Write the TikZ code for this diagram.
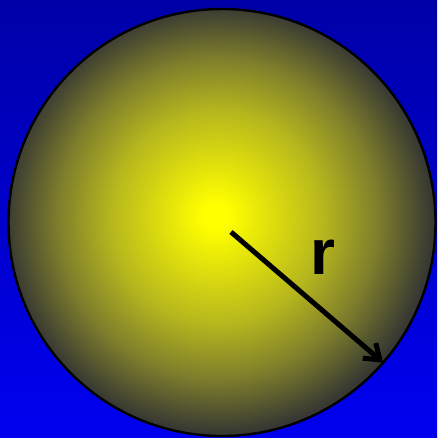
\documentclass[tikz,border=0pt]{standalone}
\usepackage{fontspec}
\usepackage{xcolor}
\usepackage{tikz}
\usetikzlibrary{arrows.meta, positioning, calc}

\newfontfamily\labelfont{Liberation Sans}

\definecolor{skytop}{RGB}{0,0,168}
\definecolor{skybottom}{RGB}{0,0,240}
\definecolor{ballmid}{RGB}{182,182,30}
\definecolor{ballouter}{RGB}{126,126,44}
\definecolor{ballrim}{RGB}{55,56,50}

% soft yellow glow, slightly up and to the left
\pgfdeclareradialshading{ballglow}{\pgfpoint{-0.8bp}{0.8bp}}{%
  color(0bp)=(yellow); color(1.5bp)=(yellow); color(12.5bp)=(ballmid);
  color(18.75bp)=(ballouter); color(25bp)=(ballrim); color(50bp)=(ballrim)}

\begin{document}
\begin{tikzpicture}[
    x=1pt, y=-1pt,
    every node/.style={font=\labelfont\bfseries, align=center},
    ball/.style={circle, draw=black, line width=2.4pt, shading=ballglow, minimum size=427pt, inner sep=0pt, outer sep=0pt},
    radius arrow/.style={-{Straight Barb[length=14pt, width=20pt, line width=5pt]}, line width=5pt, draw=black},
    symbol/.style={font=\fontsize{64}{64}\labelfont\bfseries, inner sep=0pt}
]

% Background
\useasboundingbox (0,0) rectangle (437,438);
\shade[top color=skytop, bottom color=skybottom] (0,0) rectangle (437,438);

% Sphere
\node (sphere) [ball] at (222,222.5) {};

% Radius
\coordinate (tail) at (231,232);
\draw [radius arrow] (tail) -- (sphere.-41.76);
\node (rlabel) [symbol] at (323,257) {r};

\end{tikzpicture}
\end{document}
